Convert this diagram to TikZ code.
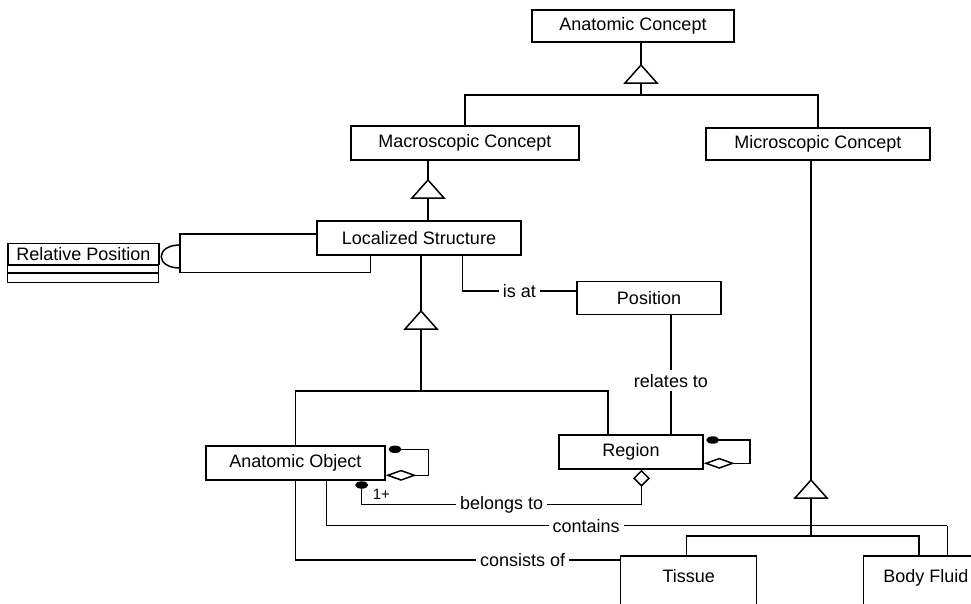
\documentclass[tikz,border=0pt]{standalone}
\usepackage{fontspec}
\setmainfont{Liberation Sans}
\usetikzlibrary{arrows.meta}

\begin{document}
\begin{tikzpicture}[x=1pt,y=-1pt,line width=1.5pt,font=\fontsize{18}{20}\selectfont,
		box/.style={draw,inner sep=0pt,minimum height=34pt},
		lbl/.style={fill=white,inner sep=4pt},
		agg/.style={-{Diamond[open,fill=white,length=31pt,width=11pt]}},
		vagg/.style={-{Diamond[open,fill=white,length=17pt,width=17pt]}},
		gen/.pic={\draw[fill=white] (0,0)--(-16,18)--(16,18)--cycle;}]
	\useasboundingbox (0,0) rectangle (971,603);
	\clip (0,0) rectangle (971,603);
	% classes
	\node[box,minimum width=202pt,minimum height=32pt] (ac) at (633,26) {Anatomic Concept};
	\node[box,minimum width=228pt] (mac) at (465,143) {Macroscopic Concept};
	\node[box,minimum width=224pt,minimum height=32pt] (mic) at (818,144) {Microscopic Concept};
	\node[box,minimum width=204pt] (ls) at (419,238) {Localized Structure};
	\node[box,minimum width=144pt,minimum height=33pt] (pos) at (649,298) {Position};
	\node[box,minimum width=179pt] (ao) at (295.3,463) {Anatomic Object};
	\node[box,minimum width=144pt] (reg) at (631,452) {Region};
	\node[box,anchor=north,minimum width=136pt,text height=26.5pt,text depth=60pt] (tis) at (688.7,555) {Tissue};
	\node[box,anchor=north west,minimum width=125pt,text height=26.5pt,text depth=60pt] (bf) at (862.7,555) {Body Fluid};
	\node[box,minimum width=151pt,minimum height=21pt] (rp) at (83.5,253.8) {Relative Position};
	\draw (rp.south west) rectangle ++(151,8);
	\draw (rp.south west) ++(0,8) rectangle ++(151,9.4);

	% generalisations
	\coordinate (g1) at (641,65);
	\coordinate (g1b) at (641,83);
	\coordinate (j1) at (641,95);
	\draw (ac.south -| g1) -- (g1);
	\draw (g1b) -- (j1);
	\draw (j1) -| (mac.north);
	\draw (j1) -| (mic.north);
	\pic at (g1) {gen};

	\coordinate (g2) at (428,180);
	\coordinate (g2b) at (428,198);
	\draw (mac.south -| g2) -- (g2);
	\draw (g2b) -- (ls.north -| g2);
	\pic at (g2) {gen};

	\coordinate (g3) at (421,311);
	\coordinate (g3b) at (421,329);
	\coordinate (j3) at (421,391);
	\draw (ls.south -| g3) -- (g3);
	\draw (g3b) -- (j3);
	\draw (j3) -| (ao.north);
	\draw (j3) -| ([xshift=-23pt]reg.north);
	\pic at (g3) {gen};

	\coordinate (g4) at (811,480);
	\coordinate (g4b) at (811,498);
	\coordinate (j4) at (811,536);
	\draw (mic.south -| g4) -- (g4);
	\draw (g4b) -- (j4);
	\draw (j4) -| ([xshift=-2pt]tis.north);
	\draw (j4) -| ([xshift=-7pt]bf.north);
	\pic at (g4) {gen};

	% Relative Position
	\coordinate (sk) at (180,234);
	\draw ([yshift=4pt]ls.west) -- (sk) -- ++(0,38.3) -| ([xshift=-48.3pt]ls.south);
	\draw (180,245) .. controls (155,245) and (155,268) .. (180,268);

	% associations
	\draw ([xshift=43.7pt]ls.south) |- node[lbl,pos=0.75]{is at} ([yshift=7pt]pos.west);
	\draw ([xshift=22pt]pos.south) -- node[lbl,pos=0.55]{relates to} ([xshift=22pt]pos.south |- reg.north);

	\coordinate (d1) at (361.7,485);
	\coordinate (b2) at (641.5,504.5);
	\draw (d1) |- node[lbl,pos=0.75]{belongs to} (b2);
	\draw[vagg] (b2) -- (reg.south -| b2);
	\fill (d1) ellipse[x radius=6.5,y radius=3.7];
	\node[font=\fontsize{15}{17}\selectfont,anchor=west,inner sep=0pt] (one) at (372,494) {1+};

	\coordinate (c2) at (947.3,525.7);
	\draw ([xshift=31.4pt]ao.south) |- node[lbl,pos=0.709]{contains} (c2);
	\draw (c2) -- (bf.north -| c2);

	\draw (ao.south) |- node[lbl,pos=0.85]{consists of} ([yshift=-5pt]tis.north west);

	% self associations
	\coordinate (d2) at (395,449.3);
	\draw[agg] (d2) -- ++(33.7,0) |- ([yshift=-12.3pt]ao.east);
	\fill (d2) ellipse[x radius=6.5,y radius=3.7];

	\coordinate (d3) at (712.7,440);
	\draw[agg] (d3) -- ++(37.3,0) |- ([yshift=-11.3pt]reg.east);
	\fill (d3) ellipse[x radius=6.5,y radius=3.7];
\end{tikzpicture}
\end{document}
